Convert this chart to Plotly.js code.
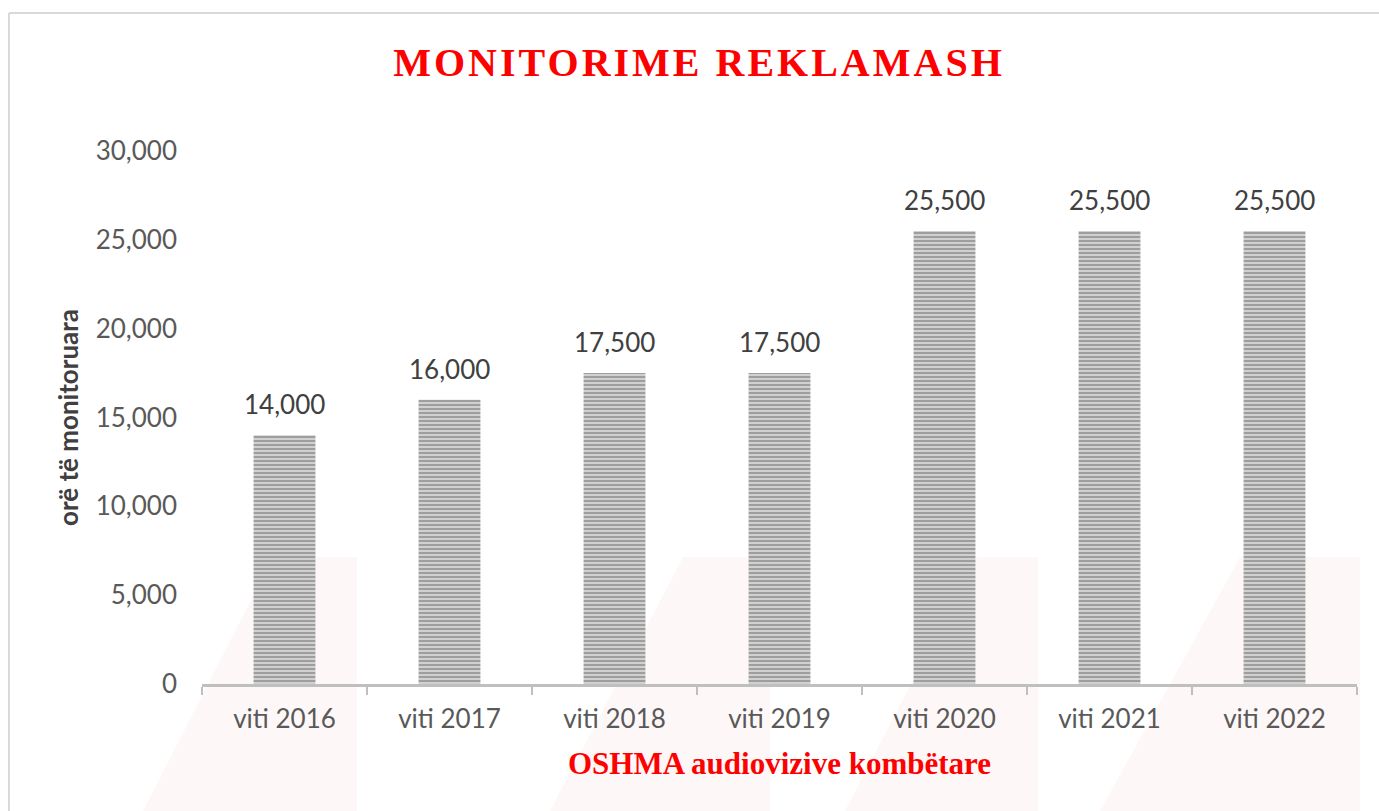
<!DOCTYPE html>
<html>
<head>
<meta charset="utf-8">
<script src="https://cdn.plot.ly/plotly-3.0.1.min.js"></script>
<style>
  html, body { margin: 0; padding: 0; background: #ffffff; }
  #chart { width: 1379px; height: 811px; }
</style>
</head>
<body>
<div id="chart"></div>
<script>
// ---- data ----
const categories = ["viti 2016", "viti 2017", "viti 2018", "viti 2019", "viti 2020", "viti 2021", "viti 2022"];
const hours = [14000, 16000, 17500, 17500, 25500, 25500, 25500];
const yTickValues = [0, 5000, 10000, 15000, 20000, 25000, 30000];
const chartTitle = "MONITORIME REKLAMASH";
const xAxisTitle = "OSHMA audiovizive kombëtare";
const yAxisTitle = "orë të monitoruara";

// ---- layout geometry ----
const W = 1379, H = 811;
const M = { l: 202, r: 22, t: 151, b: 127 };
const px = x => (x - M.l) / (W - M.l - M.r);
const py = y => (H - M.b - y) / (H - M.t - M.b);

function poly(pts) {
  return pts.map((p, i) => (i ? "L" : "M") + px(p[0]).toFixed(4) + "," + py(p[1]).toFixed(4)).join(" ") + " Z";
}

const wm = "#fef7f7";
const watermark = [
  [[273, 557], [357, 557], [357, 811], [143, 811]],
  [[683, 557], [770, 557], [770, 811], [550, 811]],
  [[977, 557], [1038, 557], [1038, 811], [845, 811]],
  [[1240, 557], [1360, 557], [1360, 811], [1100, 811]]
].map(p => ({ type: "path", xref: "paper", yref: "paper", path: poly(p), fillcolor: wm, line: { width: 0 }, layer: "below" }));

const border = [
  { type: "line", xref: "paper", yref: "paper", x0: px(9), x1: px(1385), y0: py(13), y1: py(13), line: { color: "#d9d9d9", width: 2 } },
  { type: "line", xref: "paper", yref: "paper", x0: px(9), x1: px(9), y0: py(13), y1: py(815), line: { color: "#d9d9d9", width: 2 } }
];

const labelFont = { family: "Lato, 'Open Sans', sans-serif", size: 26, color: "#404040" };

// value labels placed above each bar through the axes
const valueLabels = categories.map((c, i) => ({
  x: c, y: hours[i], xref: "x", yref: "y",
  text: hours[i].toLocaleString("en-US"),
  showarrow: false, yanchor: "bottom", yshift: 13,
  font: labelFont
}));

const trace = {
  type: "bar",
  x: categories,
  y: hours,
  marker: {
    color: "#d0d0d0",
    line: { width: 0 },
    pattern: { shape: "-", fgcolor: "#999999", bgcolor: "#d0d0d0", size: 4, solidity: 0.45 }
  },
  hoverinfo: "x+y"
};

const layout = {
  width: W, height: H,
  margin: M,
  paper_bgcolor: "#ffffff",
  plot_bgcolor: "rgba(0,0,0,0)",
  showlegend: false,
  bargap: 0.625,
  title: {
    text: chartTitle,
    font: { family: "'Liberation Serif', serif", size: 40, color: "#ff0000", weight: "bold" },
    x: 699 / W, xanchor: "center", xref: "container",
    y: 1 - 62 / H, yanchor: "middle", yref: "container"
  },
  xaxis: {
    type: "category",
    showgrid: false,
    zeroline: false,
    showline: true,
    linecolor: "#bfbfbf",
    linewidth: 3,
    ticks: "outside",
    tickson: "boundaries",
    ticklen: 8,
    tickwidth: 2,
    tickcolor: "#bfbfbf",
    ticklabelstandoff: 10,
    tickfont: { family: "Lato, 'Open Sans', sans-serif", size: 26, color: "#595959" },
    title: {
      text: xAxisTitle,
      standoff: 20,
      font: { family: "'Liberation Serif', serif", size: 31, color: "#ff0000", weight: "bold" }
    }
  },
  yaxis: {
    range: [0, 30000],
    tickvals: yTickValues,
    ticktext: yTickValues.map(v => v.toLocaleString("en-US")),
    showgrid: false,
    zeroline: false,
    showline: false,
    ticks: "",
    ticklabelstandoff: 24,
    tickfont: { family: "Lato, 'Open Sans', sans-serif", size: 26, color: "#595959" },
    title: {
      text: yAxisTitle,
      standoff: 9,
      font: { family: "Lato, 'Open Sans', sans-serif", size: 26, color: "#404040", weight: "bold" }
    }
  },
  annotations: valueLabels,
  shapes: watermark.concat(border)
};

Plotly.newPlot("chart", [trace], layout, { displayModeBar: false }).then(gd => {
  const t = gd.querySelector(".gtitle");
  if (t) t.style.letterSpacing = "3px";
});
</script>
</body>
</html>
